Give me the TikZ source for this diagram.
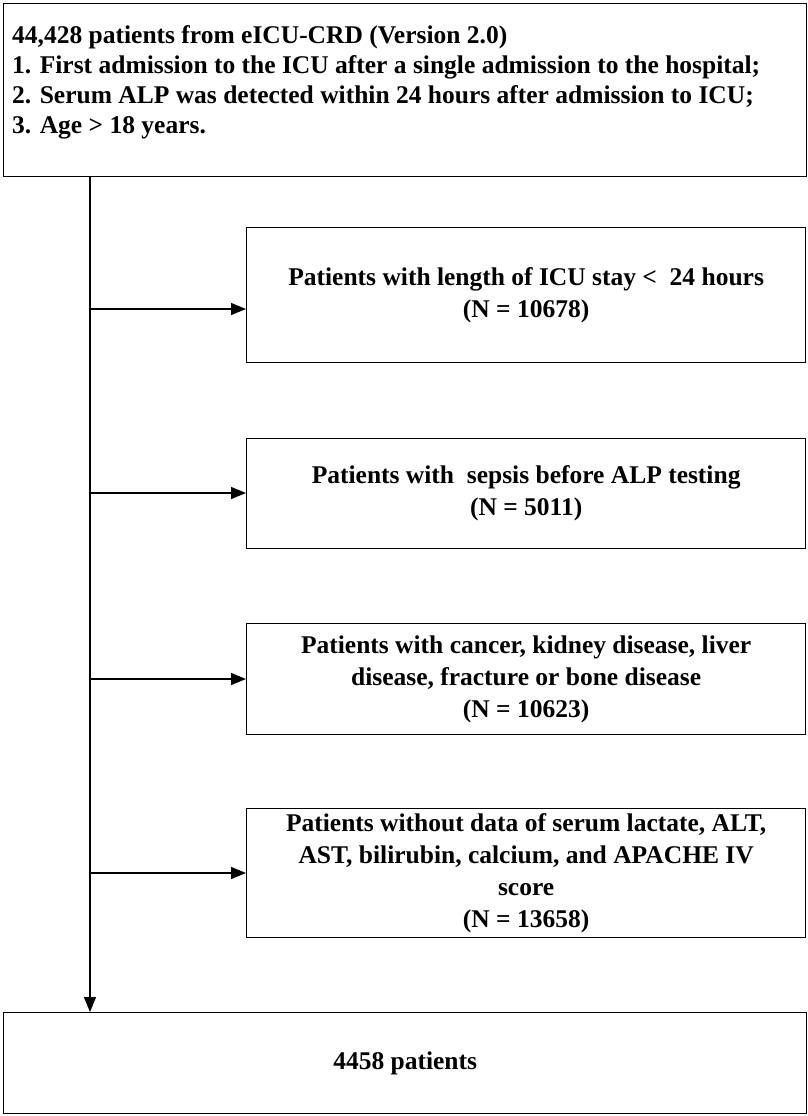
\documentclass[tikz,border=0pt]{standalone}
\usepackage{fontspec}
\setmainfont{Liberation Serif}
\usetikzlibrary{arrows.meta}
\tikzset{
  excl/.style={draw,line width=1.3pt,minimum width=559pt,align=center,anchor=north west,
    font=\bfseries\fontsize{25.5}{32}\selectfont,inner sep=0pt},
  flow/.style={line width=1.3pt,-{Triangle[length=15pt,width=12pt]}}
}
\begin{document}
\begin{tikzpicture}[x=1pt,y=-1pt]
\useasboundingbox (0,0) rectangle (807,1116);
\node[draw,line width=1.3pt,anchor=north west,minimum width=803pt,minimum height=173pt,inner sep=0pt] (start) at (3,3) {};
\node[anchor=north west,align=left,font=\bfseries\fontsize{25.5}{30}\selectfont,inner sep=0pt] (crit) at (12,25)
  {44,428 patients from eICU-CRD (Version 2.0)\\
   1. First admission to the ICU after a single admission to the hospital;\\
   2. Serum ALP was detected within 24 hours after admission to ICU;\\
   3. Age \textgreater{} 18 years.};
\node[excl,minimum height=135pt] (stay) at (246,227) {Patients with length of ICU stay \textless{}\ \ 24 hours\\(N = 10678)};
\node[excl,minimum height=110pt] (sepsis) at (246,438) {Patients with\ \ sepsis before ALP testing\\(N = 5011)};
\node[excl,minimum height=111pt] (disease) at (246,623) {Patients with cancer, kidney disease, liver\\disease, fracture or bone disease\\(N = 10623)};
\node[excl,minimum height=129pt] (missing) at (246,808) {Patients without data of serum lactate, ALT,\\AST, bilirubin, calcium, and APACHE IV\\score\\(N = 13658)};
\node[draw,line width=1.3pt,anchor=north west,minimum width=803pt,minimum height=101pt,
  font=\bfseries\fontsize{25.5}{30}\selectfont] (final) at (3,1012) {4458 patients};
\coordinate (top) at (90,176);
\draw[flow] (top) -- (90,1012);
\draw[flow] (90,309) -- (90,309 -| stay.west);
\draw[flow] (90,493) -- (90,493 -| sepsis.west);
\draw[flow] (90,679) -- (90,679 -| disease.west);
\draw[flow] (90,873) -- (90,873 -| missing.west);
\end{tikzpicture}
\end{document}
